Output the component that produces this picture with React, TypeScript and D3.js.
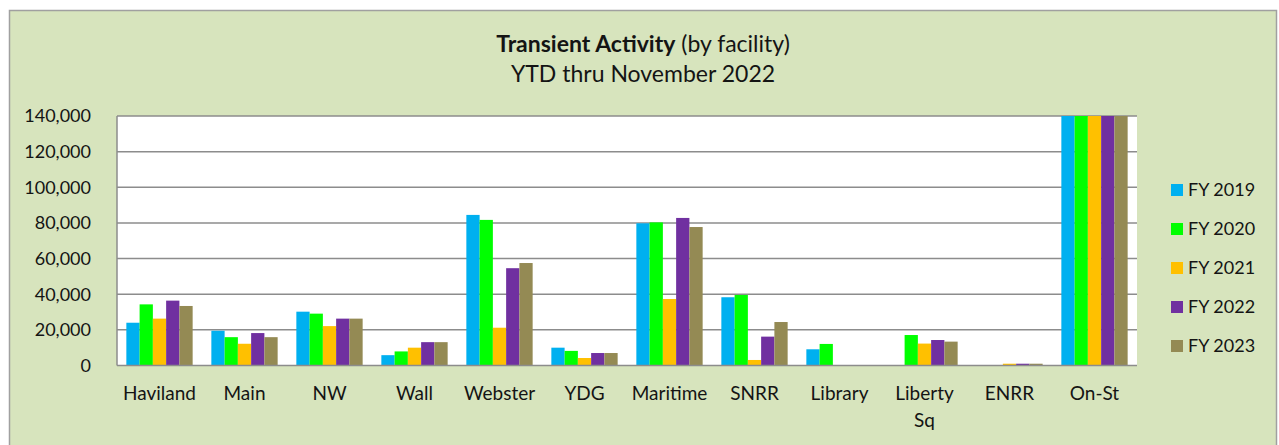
import React from "react";
import * as d3 from "d3";

const categories = ["Haviland", "Main", "NW", "Wall", "Webster", "YDG", "Maritime", "SNRR", "Library", "Liberty Sq", "ENRR", "On-St"];
const seriesNames = ["FY 2019", "FY 2020", "FY 2021", "FY 2022", "FY 2023"];
const fy2019 = [24000, 19500, 30200, 5800, 84500, 10000, 79800, 38300, 9100, 0, 0, 150000];
const fy2020 = [34300, 15900, 29100, 7900, 81700, 8200, 80300, 39600, 12100, 17100, 0, 150000];
const fy2021 = [26300, 12200, 22100, 10000, 21200, 4200, 37300, 3100, 0, 12300, 1000, 150000];
const fy2022 = [36400, 18200, 26300, 13100, 54600, 7000, 82800, 16200, 0, 14300, 1000, 150000];
const fy2023 = [33400, 15900, 26300, 13100, 57500, 7000, 77700, 24400, 0, 13400, 1000, 150000];
const yTicks = [0, 20000, 40000, 60000, 80000, 100000, 120000, 140000];
const colors = ["#00b0f0", "#00ff00", "#ffc000", "#7030a0", "#948a54"];

const seriesValues = [fy2019, fy2020, fy2021, fy2022, fy2023];

export default function App() {
  const W = 1279, H = 445;
  const left = 117, right = 1137, top = 116, bottom = 365.5;
  const font = "Lato, 'Open Sans', sans-serif";
  const x0 = d3.scaleBand<string>().domain(categories).range([left, right]).paddingInner(0.22).paddingOuter(0.11);
  const x1 = d3.scaleBand<string>().domain(seriesNames).range([0, x0.bandwidth()]);
  const y = d3.scaleLinear().domain([0, 140000]).range([bottom, top]).clamp(true);
  const fmt = d3.format(",");
  const band = (right - left) / categories.length;

  return (
    <svg width={W} height={H} style={{ position: "absolute", left: 0, top: 0 }} fontFamily={font}>
      <rect x={0} y={0} width={W} height={H} fill="#ffffff" />
      <rect x={9.5} y={10.5} width={1267} height={460} fill="#d7e4bd" stroke="#a0a0a0" strokeWidth={1.5} />
      <text x={643} y={51.5} textAnchor="middle" fontSize={23} fill="#141414">
        <tspan fontWeight="bold">Transient Activity</tspan>
        <tspan> (by facility)</tspan>
      </text>
      <text x={643} y={81.5} textAnchor="middle" fontSize={23} fill="#141414">YTD thru November 2022</text>
      <rect x={left} y={top} width={right - left} height={bottom - top} fill="#ffffff" />
      {yTicks.map((t) => (
        <g key={t}>
          {t > 0 && <line x1={left} x2={right} y1={y(t)} y2={y(t)} stroke="#8c8c8c" strokeWidth={1.5} />}
          <text x={91} y={y(t)} dy="0.35em" textAnchor="end" fontSize={18} fill="#141414">{fmt(t)}</text>
        </g>
      ))}
      {categories.map((c, i) => (
        <g key={c}>
          {seriesValues.map((vals, s) => {
            const v = vals[i];
            if (!v) return null;
            const bx = (x0(c) as number) + (x1(seriesNames[s]) as number);
            return <rect key={s} x={bx} y={y(v)} width={x1.bandwidth()} height={bottom - y(v)} fill={colors[s]} />;
          })}
          {c.split(" ").map((part, k) => (
            <text key={k} x={left + band * i + band / 2} y={393 + k * 27} dy="0.35em" textAnchor="middle" fontSize={19} fill="#141414">{part}</text>
          ))}
        </g>
      ))}
      <line x1={left} x2={left} y1={top} y2={bottom} stroke="#8c8c8c" strokeWidth={1.5} />
      <line x1={left} x2={right} y1={bottom} y2={bottom} stroke="#8c8c8c" strokeWidth={1.5} />
      {seriesNames.map((n, s) => (
        <g key={n}>
          <rect x={1171} y={190 + s * 39 - 6} width={12} height={12} fill={colors[s]} />
          <text x={1188} y={190 + s * 39} dy="0.35em" fontSize={18} fill="#141414">{n}</text>
        </g>
      ))}
    </svg>
  );
}
